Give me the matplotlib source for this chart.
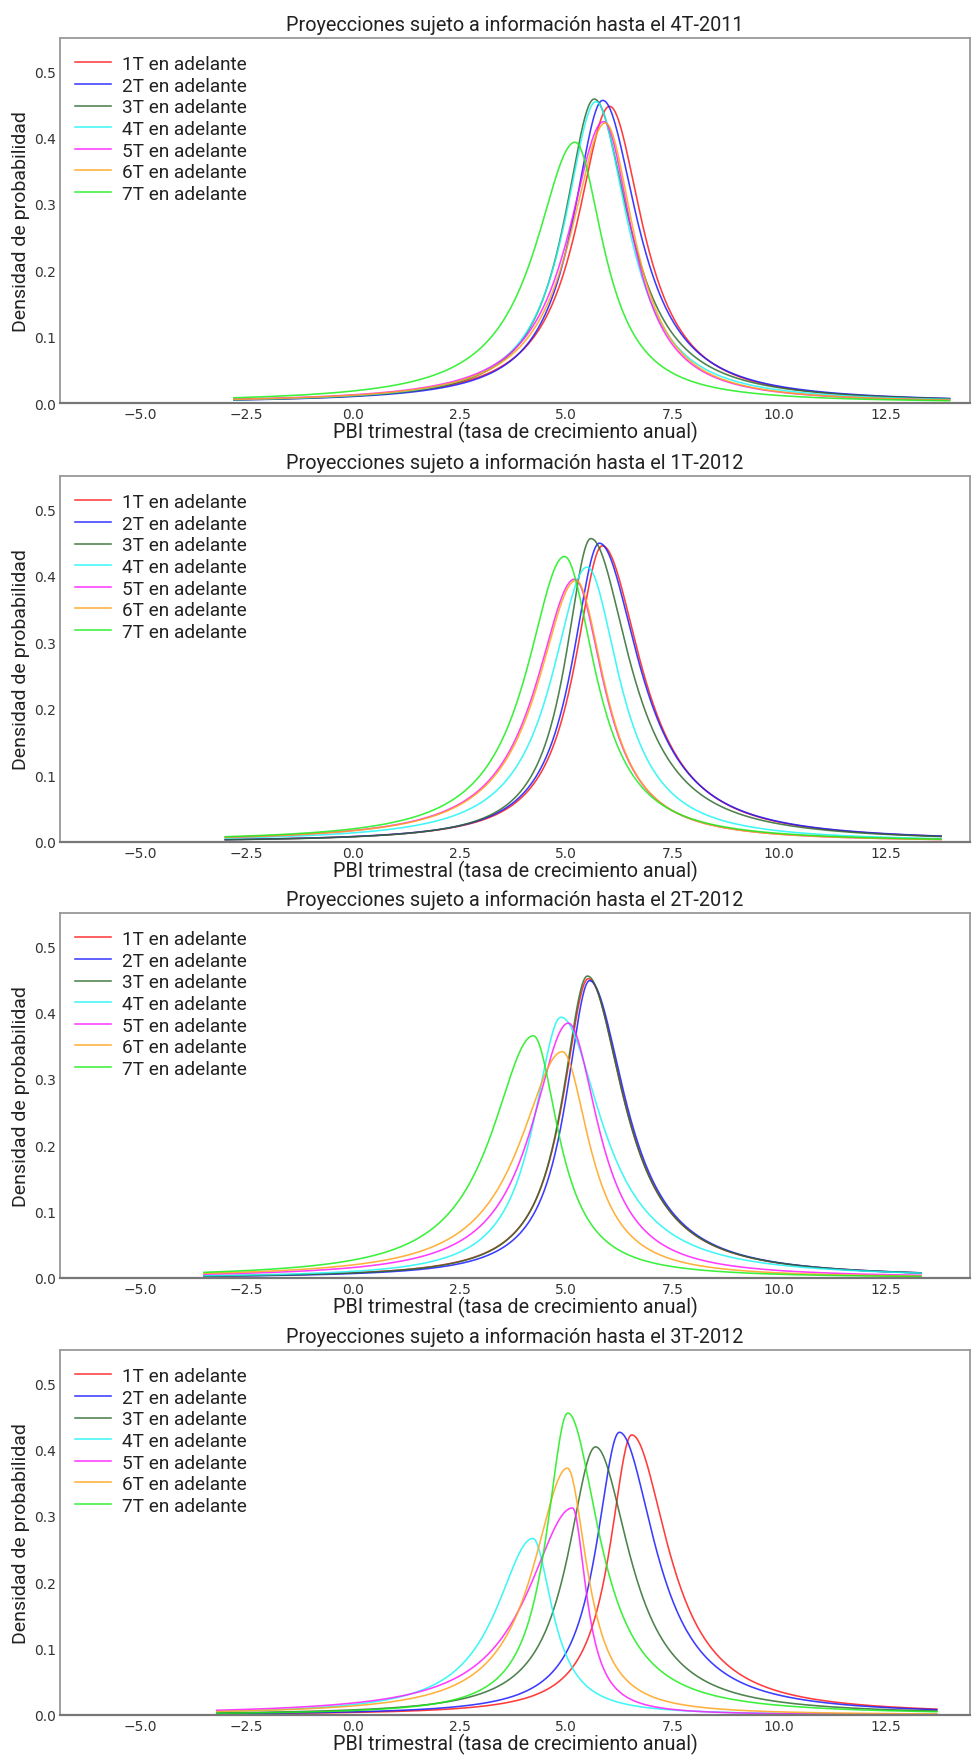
import numpy as np
import matplotlib
matplotlib.use("Agg")
import matplotlib.pyplot as plt

# ---------------- data ----------------
titles = [
    "Proyecciones sujeto a información hasta el 4T-2011",
    "Proyecciones sujeto a información hasta el 1T-2012",
    "Proyecciones sujeto a información hasta el 2T-2012",
    "Proyecciones sujeto a información hasta el 3T-2012",
]
series_labels = ["1T en adelante", "2T en adelante", "3T en adelante", "4T en adelante",
                 "5T en adelante", "6T en adelante", "7T en adelante"]

# x-range covered by the curves in each panel
x_start = [-2.8, -3.0, -3.5, -3.2]
x_end = [14.0, 13.8, 13.33, 13.7]

# mode (x of peak) of each curve, per panel
modes_4T2011 = [6.02, 5.86, 5.66, 5.70, 5.88, 5.92, 5.21]
modes_1T2012 = [5.85, 5.78, 5.58, 5.49, 5.20, 5.23, 4.96]
modes_2T2012 = [5.52, 5.55, 5.50, 4.88, 5.05, 4.91, 4.23]
modes_3T2012 = [6.54, 6.25, 5.69, 4.22, 5.15, 5.03, 5.04]

# peak density of each curve
peaks_4T2011 = [0.447, 0.456, 0.458, 0.454, 0.424, 0.422, 0.393]
peaks_1T2012 = [0.445, 0.449, 0.456, 0.413, 0.395, 0.393, 0.429]
peaks_2T2012 = [0.451, 0.448, 0.455, 0.393, 0.384, 0.341, 0.365]
peaks_3T2012 = [0.422, 0.426, 0.404, 0.266, 0.312, 0.372, 0.455]

# x where each curve crosses density 0.1 on its left / right flank
left01_4T2011 = [4.25, 4.22, 4.02, 4.00, 4.05, 4.12, 3.25]
right01_4T2011 = [7.79, 7.75, 7.55, 7.42, 7.37, 7.42, 6.62]
left01_1T2012 = [4.37, 4.31, 4.19, 3.69, 3.29, 3.33, 2.98]
right01_1T2012 = [7.92, 7.91, 7.68, 7.13, 6.65, 6.66, 6.57]
left01_2T2012 = [4.15, 4.27, 4.15, 3.53, 3.29, 3.02, 2.28]
right01_2T2012 = [7.44, 7.48, 7.44, 6.89, 6.50, 6.11, 5.41]
left01_3T2012 = [5.41, 5.05, 4.31, 2.86, 3.29, 3.41, 3.88]
right01_3T2012 = [8.42, 8.11, 7.40, 4.94, 5.72, 5.96, 6.74]

panels = [
    (modes_4T2011, peaks_4T2011, left01_4T2011, right01_4T2011),
    (modes_1T2012, peaks_1T2012, left01_1T2012, right01_1T2012),
    (modes_2T2012, peaks_2T2012, left01_2T2012, right01_2T2012),
    (modes_3T2012, peaks_3T2012, left01_3T2012, right01_3T2012),
]

# ---------------- style ----------------
colors = ["#ff1a1a", "#1a1aff", "#2e6b2e", "#1ff5f5", "#ff1aff", "#ffa31a", "#1aee1a"]
TXT = ["Roboto", "DejaVu Sans"]
k_tail = 1.0  # Cauchy-type tail


def density(x, m, p, xl, xr):
    ratio = (p / 0.1) ** (1.0 / k_tail) - 1.0
    gl = (m - xl) / np.sqrt(ratio)
    gr = (xr - m) / np.sqrt(ratio)
    g = np.where(x < m, gl, gr)
    return p * (1.0 + ((x - m) / g) ** 2) ** (-k_tail)


W, H = 979, 1758
fig = plt.figure(figsize=(W / 100, H / 100), dpi=100)

ax_left, ax_right = 60, 970
tops = [39, 477, 914, 1351]
bots = [404, 843, 1279, 1716]

for i, (md, pk, xl, xr) in enumerate(panels):
    ax = fig.add_axes([ax_left / W, 1 - bots[i] / H, (ax_right - ax_left) / W,
                       (bots[i] - tops[i]) / H])
    x = np.linspace(x_start[i], x_end[i], 800)
    for j in range(7):
        ax.plot(x, density(x, md[j], pk[j], xl[j], xr[j]), color=colors[j],
                lw=1.15, alpha=0.85, label=series_labels[j])
    ax.set_xlim(-6.88, 14.48)
    ax.set_ylim(0, 0.55)
    ax.set_xticks([-5.0, -2.5, 0.0, 2.5, 5.0, 7.5, 10.0, 12.5])
    ax.set_xticklabels(["−5.0", "−2.5", "0.0", "2.5", "5.0", "7.5", "10.0", "12.5"])
    ax.set_yticks([0.0, 0.1, 0.2, 0.3, 0.4, 0.5])
    ax.set_yticklabels(["0.0", "0.1", "0.2", "0.3", "0.4", "0.5"])
    ax.tick_params(length=0, labelsize=10, pad=3, labelcolor="#333333")
    for lab in ax.get_xticklabels() + ax.get_yticklabels():
        lab.set_family("DejaVu Sans")
    for s in ["top", "left", "right"]:
        ax.spines[s].set_color("#999999")
        ax.spines[s].set_linewidth(1.3)
    ax.spines["bottom"].set_color("#777777")
    ax.spines["bottom"].set_linewidth(1.6)
    ax.set_title(titles[i], family=TXT, fontsize=14.3, color="#222222", x=0.5, pad=6)
    ax.set_xlabel("PBI trimestral (tasa de crecimiento anual)", family=TXT,
                  fontsize=14.2, color="#222222")
    ax.xaxis.set_label_coords(0.5, -0.05)
    ax.set_ylabel("Densidad de probabilidad", family=TXT, fontsize=14,
                  color="#222222", labelpad=3)
    leg = ax.legend(loc="upper left", frameon=False, prop={"family": TXT, "size": 13.7},
                    handlelength=1.9, handletextpad=0.55, labelspacing=0.19,
                    borderaxespad=0.4, bbox_to_anchor=(0.0, 0.995))
    for t in leg.get_texts():
        t.set_color("#222222")

fig.savefig("out.png", dpi=100, facecolor="white")
